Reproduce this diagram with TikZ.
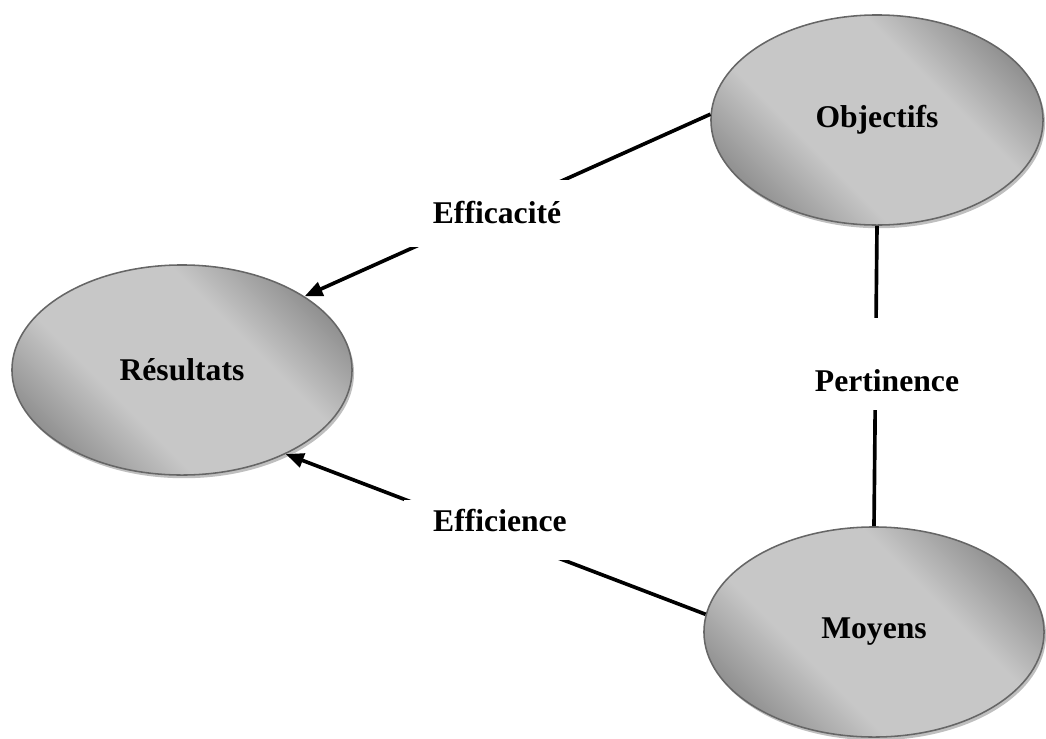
\documentclass[tikz,border=0pt]{standalone}
\usepackage{fontspec}
\setmainfont{Liberation Serif}
\usetikzlibrary{shapes.geometric,shadows,arrows.meta}
\pgfdeclareverticalshading{ellshade}{100bp}{color(0bp)=(black!55); color(22bp)=(black!47); color(38bp)=(black!22); color(62bp)=(black!22); color(78bp)=(black!47); color(100bp)=(black!55)}
\begin{document}
\begin{tikzpicture}[x=0.025cm,y=-0.025cm,
  ell/.style={ellipse, draw=black!60, line width=1.1pt, minimum width=8.5cm, minimum height=5.25cm,
    shading=ellshade, shading angle=-45,
    drop shadow={shadow xshift=0.05cm, shadow yshift=-0.08cm, fill=black!25, opacity=1},
    font=\fontsize{22.5}{27}\selectfont\bfseries},
  lbl/.style={fill=white, inner sep=0pt, anchor=base, font=\fontsize{22.5}{27}\selectfont\bfseries},
  conn/.style={line width=2.6pt}]
\useasboundingbox (0,0) rectangle (1046,738);
\node[ell, minimum width=8.3cm] (obj) at (877,120){Objectifs};
\node[ell] (res) at (182,370){Résultats};
\node[ell] (moy) at (874,632){Moyens};
\draw[conn, -{Triangle[length=0.45cm,width=0.36cm]}] (obj.178) -- (res.31);
\draw[conn, -{Triangle[length=0.45cm,width=0.36cm]}] (moy.174) -- (res.-39);
\draw[conn] (obj.south) -- (moy.north);
\node[lbl, text height=1.075cm, text depth=0.6cm, minimum width=4.35cm] (effa) at (497,223){Efficacité};
\node[lbl, text height=0.775cm, text depth=0.725cm, minimum width=4.8cm] (effi) at (500,531){Efficience};
\node[lbl, text height=1.825cm, text depth=0.475cm] (pert) at (887,391){Pertinence};
\end{tikzpicture}
\end{document}
